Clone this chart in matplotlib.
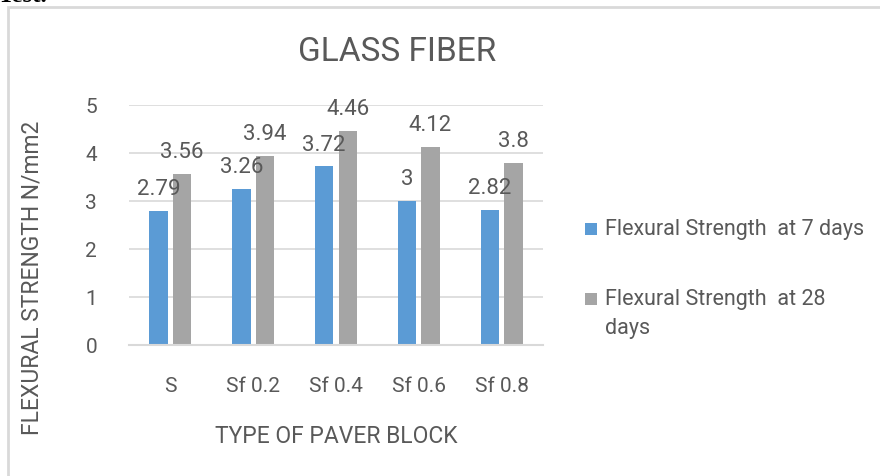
import numpy as np
import matplotlib.pyplot as plt
from matplotlib.patches import Rectangle

# Data
categories = ['S', 'Sf 0.2', 'Sf 0.4', 'Sf 0.6', 'Sf 0.8']
strength_7 = [2.79, 3.26, 3.72, 3.00, 2.82]
strength_28 = [3.56, 3.94, 4.46, 4.12, 3.80]
labels_7 = ['2.79', '3.26', '3.72', '3', '2.82']
labels_28 = ['3.56', '3.94', '4.46', '4.12', '3.8']
series_names = ['Flexural Strength  at 7 days', 'Flexural Strength  at 28\ndays']

plt.rcParams['font.family'] = ['Roboto', 'DejaVu Sans']
text_color = '#595959'
blue = '#5B9BD5'
gray = '#A5A5A5'
grid_color = '#D9D9D9'

W, H = 880, 477
fig = plt.figure(figsize=(W / 100, H / 100), dpi=100)

def fx(px):
    return px / W

def fy(py):
    return 1 - py / H

# outer frame of the embedded chart (runs off the right and bottom)
fig.patches.append(Rectangle((fx(8), -0.1), 1.2, fy(8) + 0.1, transform=fig.transFigure,
                             fill=False, edgecolor=grid_color, linewidth=2))
# clipped heading text from the document above
fig.text(fx(-2), fy(2), 'Test.', fontsize=18, fontweight='bold', family='Liberation Serif',
         va='baseline', ha='left', color='black')

ax = fig.add_axes([fx(129), fy(346), 414 / W, 240 / H])

x = np.arange(len(categories))
width = 0.223
offset = 0.142
b1 = ax.bar(x - offset, strength_7, width, color=blue)
b2 = ax.bar(x + offset, strength_28, width, color=gray)

for bars, labs in [(b1, labels_7), (b2, labels_28)]:
    for rect, lab in zip(bars, labs):
        ax.text(rect.get_x() + rect.get_width() / 2, rect.get_height() + 0.35, lab,
                ha='center', va='baseline', fontsize=16, color=text_color)

ax.set_xlim(-0.5, len(categories) - 0.5)
ax.set_ylim(0, 5)
ax.set_yticks(range(0, 6))
ax.set_xticks(x)
ax.set_xticklabels(categories)
ax.tick_params(axis='both', length=0, labelsize=15, colors=text_color)
ax.tick_params(axis='y', pad=23)
ax.tick_params(axis='x', pad=22)
ax.yaxis.grid(True, color=grid_color, linewidth=1.2)
ax.set_axisbelow(True)
for side in ['top', 'right', 'left']:
    ax.spines[side].set_visible(False)
ax.spines['bottom'].set_color(grid_color)
ax.spines['bottom'].set_linewidth(1.5)

ax.set_ylabel('FLEXURAL STRENGTH N/mm2', fontsize=16.5, color=text_color)
ax.yaxis.set_label_coords((32 - 129) / 414, (346 - 278) / 240)
ax.yaxis.label.set_va('center')
ax.set_xlabel('TYPE OF PAVER BLOCK', fontsize=16.5, color=text_color)
ax.xaxis.set_label_coords(0.5, (346 - 437) / 240)
ax.xaxis.label.set_va('center')
fig.text(fx(397), fy(52), 'GLASS FIBER', ha='center', va='center', fontsize=24, color=text_color)

# legend, drawn by hand so the square sits on the first line of a wrapped entry
legend_rows = [230, 300]
for color, name, row in zip([blue, gray], series_names, legend_rows):
    fig.patches.append(Rectangle((fx(585), fy(row + 6)), 12 / W, 12 / H, transform=fig.transFigure,
                                 facecolor=color, edgecolor='none'))
    fig.text(fx(605), fy(row - 11), name, ha='left', va='top', fontsize=15.5,
             color=text_color, linespacing=1.5)

fig.savefig('out.png', dpi=100)
